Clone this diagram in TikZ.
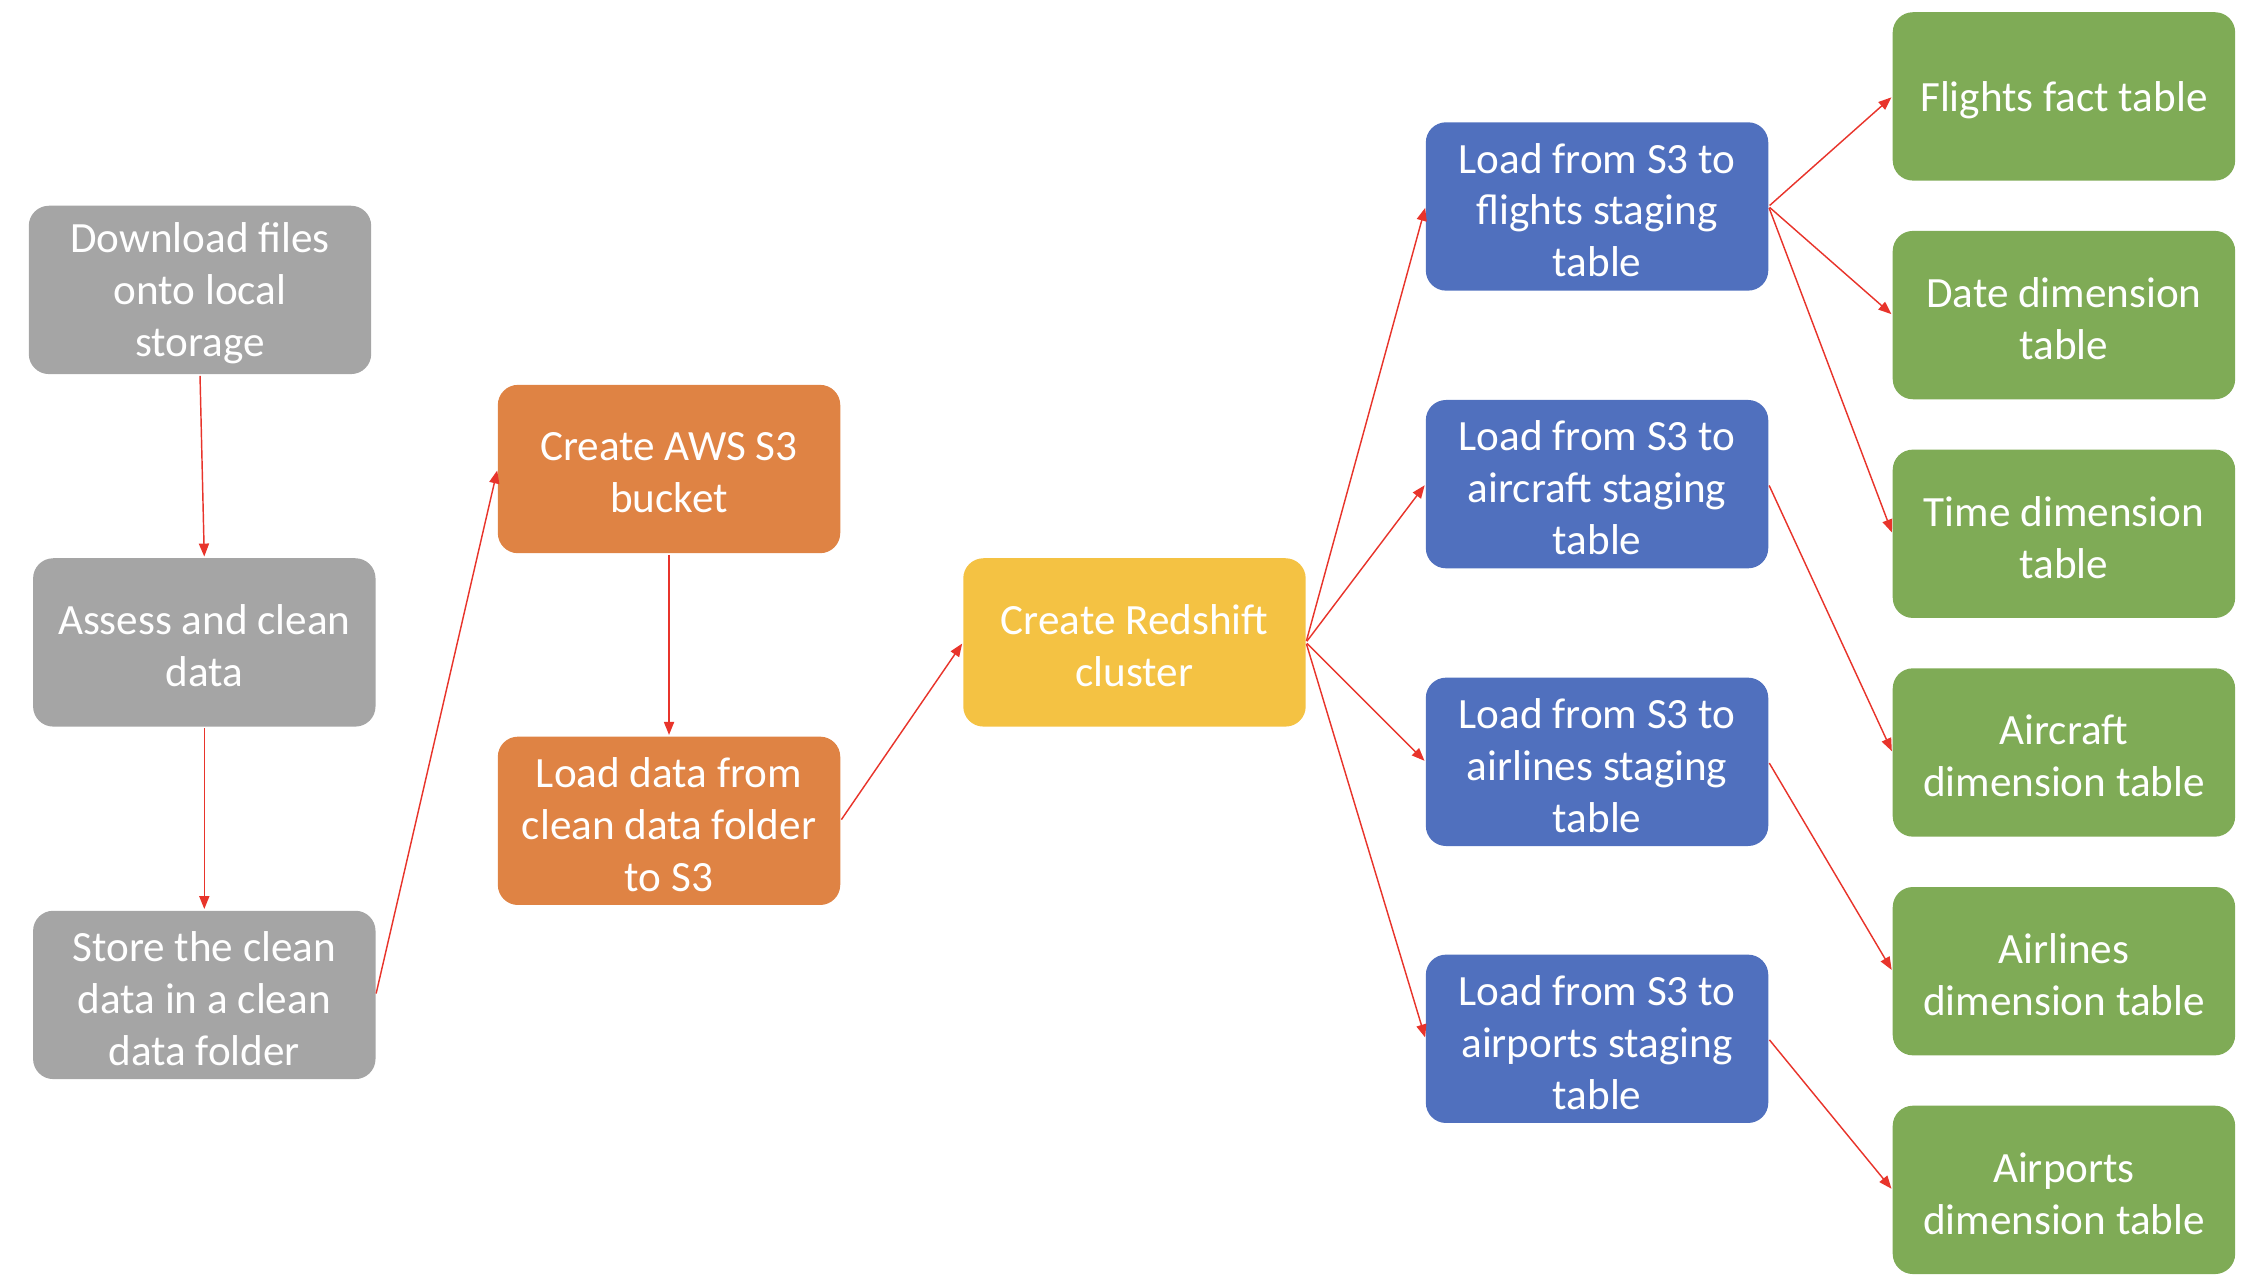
\documentclass[tikz,border=0pt]{standalone}
\usepackage{fontspec}
\setmainfont{Carlito}
\usetikzlibrary{arrows.meta}
\definecolor{cgray}{HTML}{A5A5A5}
\definecolor{corange}{HTML}{DF8344}
\definecolor{cyellow}{HTML}{F4C243}
\definecolor{cblue}{HTML}{5070BE}
\definecolor{cgreen}{HTML}{7FAB56}
\definecolor{cred}{HTML}{E8342B}
\tikzset{
  box/.style={rectangle, rounded corners=14pt, minimum width=238pt, minimum height=117pt,
    inner sep=0pt},
  txt/.style={inner sep=0pt, align=center, text=white, font=\fontsize{30}{36}\selectfont},
  graybox/.style={box, fill=cgray},
  orangebox/.style={box, fill=corange},
  yellowbox/.style={box, fill=cyellow},
  bluebox/.style={box, fill=cblue},
  greenbox/.style={box, fill=cgreen},
  conn/.style={draw=cred, line width=1pt, -{Triangle[length=9pt,width=7pt]}, shorten >=1pt, shorten <=1pt}
}
\newcommand{\boxtext}[2]{\node[txt] (#1-t) at ([yshift=-2.5pt]#1.center) {#2};}
\begin{document}
\begin{tikzpicture}[x=1pt,y=-1pt]
\useasboundingbox (0,0) rectangle (1568,888);
% gray column
\node[graybox] (dl) at (139,201.5) {};
\node[graybox] (as) at (142,446.5) {};
\node[graybox] (st) at (142,691.5) {};
% orange column
\node[orangebox] (s3) at (465,326) {};
\node[orangebox] (ld) at (465,570.5) {};
% yellow
\node[yellowbox] (rs) at (788.5,446.5) {};
% blue column
\node[bluebox] (bf) at (1110,143.5) {};
\node[bluebox] (bc) at (1110,336.5) {};
\node[bluebox] (bl) at (1110,529.5) {};
\node[bluebox] (bp) at (1110,722) {};
% green column
\node[greenbox] (gf) at (1434.5,67) {};
\node[greenbox] (gd) at (1434.5,219) {};
\node[greenbox] (gt) at (1434.5,371) {};
\node[greenbox] (gc) at (1434.5,523) {};
\node[greenbox] (gl) at (1434.5,675) {};
\node[greenbox] (gp) at (1434.5,827) {};
% texts
\boxtext{dl}{Download files\\onto local\\storage}
\boxtext{as}{Assess and clean\\data}
\boxtext{st}{Store the clean\\data in a clean\\data folder}
\boxtext{s3}{Create AWS S3\\bucket}
\boxtext{ld}{Load data from\\clean data folder\\to S3}
\boxtext{rs}{Create Redshift\\cluster}
\boxtext{bf}{Load from S3 to\\flights staging\\table}
\boxtext{bc}{Load from S3 to\\aircraft staging\\table}
\boxtext{bl}{Load from S3 to\\airlines staging\\table}
\boxtext{bp}{Load from S3 to\\airports staging\\table}
\boxtext{gf}{Flights fact table}
\boxtext{gd}{Date dimension\\table}
\boxtext{gt}{Time dimension\\table}
\boxtext{gc}{Aircraft\\dimension table}
\boxtext{gl}{Airlines\\dimension table}
\boxtext{gp}{Airports\\dimension table}
% connectors
\draw[conn] (dl.south) -- (as.north);
\draw[conn] (as.south) -- (st.north);
\draw[conn] (st.east) -- (s3.west);
\draw[conn] (s3.south) -- (ld.north);
\draw[conn] (ld.east) -- (rs.west);
\draw[conn] (rs.east) -- (bf.west);
\draw[conn] (rs.east) -- (bc.west);
\draw[conn] (rs.east) -- (bl.west);
\draw[conn] (rs.east) -- (bp.west);
\draw[conn] (bf.east) -- (gf.west);
\draw[conn] (bf.east) -- (gd.west);
\draw[conn] (bf.east) -- (gt.west);
\draw[conn] (bc.east) -- (gc.west);
\draw[conn] (bl.east) -- (gl.west);
\draw[conn] (bp.east) -- (gp.west);
\end{tikzpicture}
\end{document}
